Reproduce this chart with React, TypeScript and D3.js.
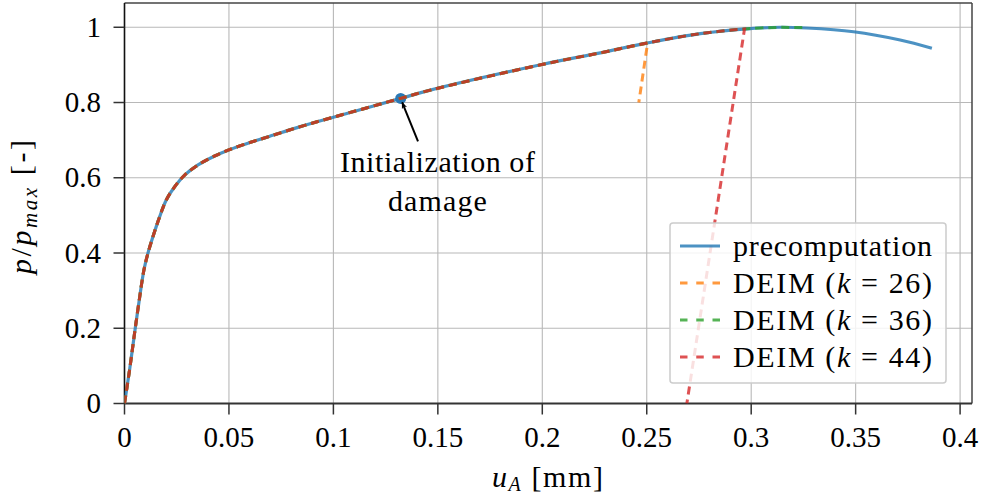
import React from "react";
import * as d3 from "d3";

// ---- data ----
const precompU = [0, 0.0025, 0.0049, 0.0073, 0.0093, 0.0112, 0.0136, 0.0168, 0.02, 0.024, 0.0288, 0.0352, 0.0432, 0.0499, 0.0591, 0.0683, 0.0842, 0.1, 0.1322, 0.1464, 0.1998, 0.2278, 0.2501, 0.2756, 0.2995, 0.3139, 0.3266, 0.349, 0.3713, 0.3865];
const precompP = [0, 0.092, 0.19, 0.284, 0.355, 0.399, 0.443, 0.496, 0.541, 0.576, 0.607, 0.634, 0.658, 0.674, 0.692, 0.708, 0.736, 0.761, 0.811, 0.833, 0.901, 0.932, 0.958, 0.983, 0.9965, 1.0, 0.998, 0.988, 0.966, 0.944];

const deim26U = [0, 0.0025, 0.0049, 0.0073, 0.0093, 0.0112, 0.0136, 0.0168, 0.02, 0.024, 0.0288, 0.0352, 0.0432, 0.0499, 0.0591, 0.0683, 0.0842, 0.1, 0.1322, 0.1464, 0.1998, 0.2278, 0.2504, 0.2462];
const deim26P = [0, 0.092, 0.19, 0.284, 0.355, 0.399, 0.443, 0.496, 0.541, 0.576, 0.607, 0.634, 0.658, 0.674, 0.692, 0.708, 0.736, 0.761, 0.811, 0.833, 0.901, 0.932, 0.958, 0.8];

const deim36U = [0, 0.0025, 0.0049, 0.0073, 0.0093, 0.0112, 0.0136, 0.0168, 0.02, 0.024, 0.0288, 0.0352, 0.0432, 0.0499, 0.0591, 0.0683, 0.0842, 0.1, 0.1322, 0.1464, 0.1998, 0.2278, 0.2501, 0.2756, 0.2995, 0.3139, 0.3255];
const deim36P = [0, 0.092, 0.19, 0.284, 0.355, 0.399, 0.443, 0.496, 0.541, 0.576, 0.607, 0.634, 0.658, 0.674, 0.692, 0.708, 0.736, 0.761, 0.811, 0.833, 0.901, 0.932, 0.958, 0.983, 0.9965, 1.0, 0.999];

const deim44U = [0, 0.0025, 0.0049, 0.0073, 0.0093, 0.0112, 0.0136, 0.0168, 0.02, 0.024, 0.0288, 0.0352, 0.0432, 0.0499, 0.0591, 0.0683, 0.0842, 0.1, 0.1322, 0.1464, 0.1998, 0.2278, 0.2501, 0.2756, 0.2968, 0.2692];
const deim44P = [0, 0.092, 0.19, 0.284, 0.355, 0.399, 0.443, 0.496, 0.541, 0.576, 0.607, 0.634, 0.658, 0.674, 0.692, 0.708, 0.736, 0.761, 0.811, 0.833, 0.901, 0.932, 0.958, 0.983, 0.9955, 0];

const xTicks = [0, 0.05, 0.1, 0.15, 0.2, 0.25, 0.3, 0.35, 0.4];
const xTickLabels = ["0", "0.05", "0.1", "0.15", "0.2", "0.25", "0.3", "0.35", "0.4"];
const yTicks = [0, 0.2, 0.4, 0.6, 0.8, 1];
const yTickLabels = ["0", "0.2", "0.4", "0.6", "0.8", "1"];

const damageU = [0.1322];
const damageP = [0.811];
const annotationLines = ["Initialization of", "damage"];
const annotationTextU = 0.1498;
const annotationTextP = [0.615, 0.512];
const arrowTailU = 0.1405;
const arrowTailP = 0.697;

const legendLabels = ["precomputation", "DEIM", "DEIM", "DEIM"];
const legendK = [null, "26", "36", "44"];

const colors = ["#1f77b4", "#ff7f0e", "#2ca02c", "#d62728"];

const W = 984;
const H = 499;
const FONT = "'Liberation Serif', 'Times New Roman', serif";

export default function App() {
  const x = d3.scaleLinear().domain([0, 0.4057]).range([124.5, 972]);
  const y = d3.scaleLinear().domain([0, 1.0645]).range([403.5, 3]);

  const smooth = d3
    .line<[number, number]>()
    .x((d) => x(d[0]))
    .y((d) => y(d[1]))
    .curve(d3.curveCatmullRom.alpha(0.5));

  const pts = (u: number[], p: number[]) => u.map((v, i) => [v, p[i]] as [number, number]);

  const fullPath = (u: number[], p: number[]) => smooth(pts(u, p)) || "";
  const breakPath = (u: number[], p: number[]) => {
    const all = pts(u, p);
    const head = all.slice(0, all.length - 1);
    const last = all[all.length - 1];
    return (smooth(head) || "") + `L${x(last[0])},${y(last[1])}`;
  };

  const series = [
    { d: fullPath(precompU, precompP), color: colors[0], dash: undefined },
    { d: breakPath(deim26U, deim26P), color: colors[1], dash: "8,5" },
    { d: breakPath(deim36U, deim36P), color: colors[2], dash: "8,5" },
    { d: breakPath(deim44U, deim44P), color: colors[3], dash: "8,5" },
  ];

  const left = x.range()[0];
  const right = x.range()[1];
  const top = y.range()[1];
  const bottom = y.range()[0];

  const legX = 670;
  const legY = 223;
  const legW = 276;
  const legH = 160;
  const rowBase = [256, 293, 330, 367];

  const mx = x(damageU[0]);
  const my = y(damageP[0]);
  const tx = x(arrowTailU);
  const ty = y(arrowTailP);

  return (
    <svg
      width={W}
      height={H}
      style={{ position: "absolute", left: 0, top: 0, background: "#fff", fontFamily: FONT }}
    >
      <defs>
        <clipPath id="plotclip">
          <rect x={left} y={top} width={right - left} height={bottom - top} />
        </clipPath>
        <marker id="arrowhead" viewBox="0 0 10 10" refX="9" refY="5" markerWidth="7" markerHeight="7" orient="auto" markerUnits="userSpaceOnUse">
          <path d="M0,1 L10,5 L0,9 L3,5 Z" fill="#000" />
        </marker>
      </defs>
      <rect x={0} y={0} width={W} height={H} fill="#fff" />
      {/* grid */}
      <g stroke="#b8b8b8" strokeWidth={1.1}>
        {xTicks.map((t) => (
          <line key={"gx" + t} x1={x(t)} x2={x(t)} y1={top} y2={bottom} />
        ))}
        {yTicks.map((t) => (
          <line key={"gy" + t} x1={left} x2={right} y1={y(t)} y2={y(t)} />
        ))}
      </g>
      {/* frame */}
      <line x1={left} x2={right} y1={top} y2={top} stroke="#444" strokeWidth={1.5} />
      <line x1={right} x2={right} y1={top} y2={bottom} stroke="#444" strokeWidth={1.5} />
      <line x1={left} x2={right} y1={bottom} y2={bottom} stroke="#333" strokeWidth={1.8} />
      <line x1={left} x2={left} y1={top} y2={bottom} stroke="#111" strokeWidth={1.6} />

      {/* series */}
      <g clipPath="url(#plotclip)" fill="none">
        <path d={series[0].d} stroke={series[0].color} strokeOpacity={0.8} strokeWidth={3.2} strokeLinejoin="round" />
        <circle cx={mx} cy={my} r={5.5} fill="#2a78b5" />
        {series.slice(1).map((s, i) => (
          <path key={i} d={s.d} stroke={s.color} strokeOpacity={0.8} strokeWidth={3} strokeDasharray={s.dash} />
        ))}
      </g>

      {/* ticks */}
      <g stroke="#333" strokeWidth={1.5}>
        {xTicks.map((t) => (
          <line key={"tx" + t} x1={x(t)} x2={x(t)} y1={bottom} y2={bottom + 11} />
        ))}
        {yTicks.map((t) => (
          <line key={"ty" + t} x1={left - 11} x2={left} y1={y(t)} y2={y(t)} />
        ))}
      </g>
      <g fontSize={29} fill="#000">
        {xTicks.map((t, i) => (
          <text key={"lx" + t} x={x(t)} y={447} textAnchor="middle">
            {xTickLabels[i]}
          </text>
        ))}
        {yTicks.map((t, i) => (
          <text key={"ly" + t} x={101} y={y(t) + 9.5} textAnchor="end">
            {yTickLabels[i]}
          </text>
        ))}
      </g>

      {/* axis labels */}
      <text x={492} y={487} fontSize={30} textLength={111} lengthAdjust="spacing">
        <tspan fontStyle="italic">u</tspan>
        <tspan fontStyle="italic" fontSize={20} dy={4}>A</tspan>
        <tspan dy={-4}> [mm]</tspan>
      </text>
      <text
        transform={`translate(31, 274) rotate(-90)`}
        fontSize={30}
        textLength={134}
        lengthAdjust="spacing"
      >
        <tspan fontStyle="italic">p</tspan>
        <tspan>/</tspan>
        <tspan fontStyle="italic">p</tspan>
        <tspan fontStyle="italic" fontSize={21} dy={6}>max</tspan>
        <tspan dy={-6}> [-]</tspan>
      </text>

      {/* annotation */}
      <line x1={tx} y1={ty} x2={mx + 1.5} y2={my + 4} stroke="#000" strokeWidth={2} markerEnd="url(#arrowhead)" />
      {annotationLines.map((s, i) => (
        <text
          key={s}
          x={x(annotationTextU)}
          y={y(annotationTextP[i])}
          textAnchor="middle"
          fontSize={30}
          textLength={i === 0 ? 195 : 99}
          lengthAdjust="spacing"
        >
          {s}
        </text>
      ))}

      {/* legend */}
      <rect x={legX} y={legY} width={legW} height={legH} rx={3} fill="#fff" fillOpacity={0.82} stroke="#cccccc" strokeWidth={1.5} />
      {legendLabels.map((lab, i) => (
        <g key={i}>
          <line
            x1={legX + 10}
            x2={legX + 50}
            y1={rowBase[i] - 10}
            y2={rowBase[i] - 10}
            stroke={colors[i]}
            strokeOpacity={0.8}
            strokeWidth={3}
            strokeDasharray={i === 0 ? undefined : "7.5,8.75"}
          />
          <text x={legX + 63} y={rowBase[i]} fontSize={30} textLength={199} lengthAdjust="spacing">
            {legendK[i] === null ? (
              lab
            ) : (
              <>
                <tspan>{lab} (</tspan>
                <tspan fontStyle="italic">k</tspan>
                <tspan>{" = " + legendK[i] + ")"}</tspan>
              </>
            )}
          </text>
        </g>
      ))}
    </svg>
  );
}
